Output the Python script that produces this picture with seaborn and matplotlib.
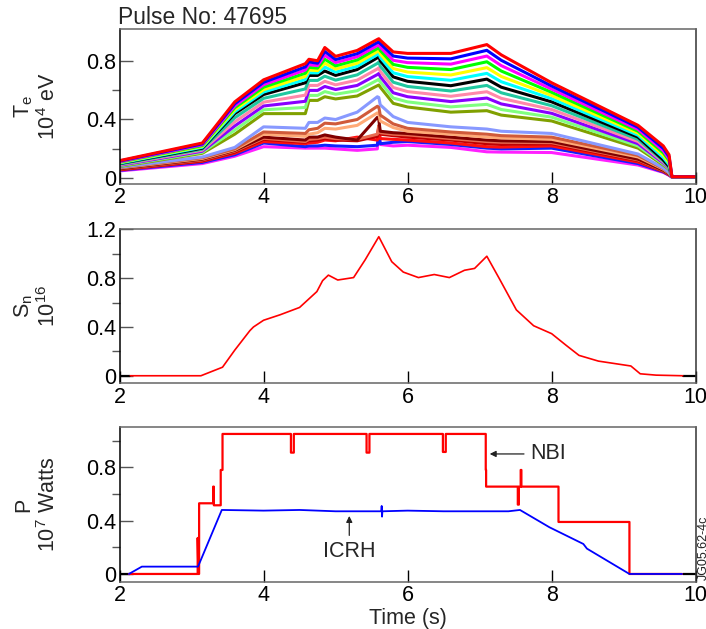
import matplotlib
matplotlib.use('Agg')
import matplotlib.pyplot as plt
import pandas as pd
import seaborn as sns

# --- Te channels (top to bottom), values in 10^4 eV at te_time ---
te_time = [2.0, 3.15, 3.6, 4.0, 4.58, 4.63, 4.75, 4.85, 5.0, 5.3, 5.58, 5.6,
           5.62, 5.8, 6.0, 6.6, 7.1, 7.3, 8.0, 9.2, 9.55, 9.63, 9.67, 10.0]

te_red = [.12, .24, .52, .67, .78, .81, .80, .89, .83, .87, .945, .95, .94, .86, .85, .85, .91, .84, .65, .36, .22, .16, .01, .01]
te_blue = [.117, .234, .507, .653, .758, .792, .783, .863, .808, .848, .924, .93, .917, .832, .818, .813, .871, .803, .628, .347, .204, .147, .01, .01]
te_magenta = [.113, .228, .493, .637, .737, .773, .767, .837, .787, .827, .903, .91, .893, .803, .787, .777, .832, .767, .607, .333, .188, .133, .01, .01]
te_lime = [.11, .222, .48, .62, .715, .755, .75, .81, .765, .805, .883, .89, .87, .775, .755, .74, .793, .73, .585, .32, .173, .12, .01, .01]
te_yellow = [.107, .217, .467, .603, .693, .737, .733, .783, .743, .783, .862, .87, .847, .747, .723, .703, .753, .693, .563, .307, .157, .107, .01, .01]
te_cyan = [.103, .211, .453, .587, .672, .718, .717, .757, .722, .762, .841, .85, .823, .718, .692, .667, .714, .657, .542, .293, .141, .093, .01, .01]
te_black = [.10, .205, .44, .57, .65, .70, .70, .73, .70, .74, .82, .83, .80, .69, .66, .63, .675, .62, .52, .28, .125, .08, .01, .01]
te_teal = [.096, .198, .412, .544, .608, .666, .666, .695, .668, .704, .782, .791, .764, .654, .625, .594, .632, .582, .494, .265, .118, .076, .01, .01]
te_pink = [.092, .191, .384, .518, .566, .632, .632, .66, .636, .668, .744, .752, .728, .618, .59, .558, .589, .544, .468, .25, .111, .072, .01, .01]
te_purple = [.088, .184, .356, .492, .524, .598, .598, .625, .604, .632, .706, .713, .692, .582, .555, .522, .546, .506, .442, .235, .104, .068, .01, .01]
te_lightgreen = [.084, .177, .328, .466, .482, .564, .564, .59, .572, .596, .668, .674, .656, .546, .52, .486, .503, .468, .416, .22, .097, .064, .01, .01]
te_olive = [.08, .17, .30, .44, .44, .53, .53, .555, .54, .56, .63, .635, .62, .51, .485, .45, .46, .43, .39, .205, .09, .06, .01, .01]
te_cornflower = [.075, .145, .21, .35, .34, .38, .38, .41, .40, .45, .555, .55, .50, .42, .38, .35, .335, .32, .305, .165, .07, .04, .01, .01]
te_sienna = [.072, .14, .20, .315, .305, .33, .34, .375, .37, .40, .49, .485, .43, .37, .34, .315, .30, .29, .28, .155, .066, .038, .01, .01]
te_salmon = [.07, .135, .195, .30, .285, .30, .31, .34, .335, .36, .445, .44, .39, .345, .32, .30, .28, .275, .265, .145, .062, .035, .01, .01]
te_maroon = [.065, .13, .19, .28, .26, .28, .28, .295, .28, .26, .415, .40, .32, .31, .305, .28, .26, .255, .25, .13, .055, .03, .01, .01]
te_coral = [.063, .125, .185, .272, .25, .265, .27, .28, .27, .265, .30, .36, .31, .30, .295, .27, .25, .245, .242, .125, .052, .028, .01, .01]
te_darkred = [.06, .12, .178, .265, .245, .255, .26, .27, .26, .255, .285, .35, .30, .29, .28, .26, .235, .23, .235, .12, .05, .026, .01, .01]
te_red2 = [.057, .115, .17, .25, .235, .24, .245, .26, .255, .28, .26, .34, .27, .265, .26, .24, .215, .212, .22, .11, .047, .024, .01, .01]
te_blue2 = [.054, .108, .16, .24, .215, .22, .22, .225, .22, .215, .225, .31, .235, .245, .25, .23, .205, .20, .205, .10, .043, .022, .008, .008]
te_magenta2 = [.05, .10, .15, .215, .205, .205, .205, .205, .20, .19, .20, .34, .23, .22, .225, .21, .18, .178, .175, .09, .04, .02, .006, .006]

# --- Neutron rate, 10^16 ---
sn_time = [2.15, 3.13, 3.43, 3.6, 3.81, 3.86, 4.0, 4.23, 4.5, 4.74, 4.82, 4.9,
           5.03, 5.25, 5.41, 5.6, 5.78, 5.94, 6.15, 6.37, 6.58, 6.79, 6.93, 7.1,
           7.27, 7.51, 7.75, 8.0, 8.2, 8.38, 8.65, 9.1, 9.23, 9.45, 9.82]
sn_value = [0.0, 0.0, 0.07, 0.21, 0.37, 0.40, 0.455, 0.50, 0.56, 0.69, 0.78, 0.825,
            0.785, 0.805, 0.95, 1.14, 0.935, 0.85, 0.805, 0.83, 0.805, 0.865, 0.88, 0.98,
            0.80, 0.54, 0.41, 0.345, 0.25, 0.167, 0.12, 0.08, 0.016, 0.005, 0.0]

# --- Heating power, 10^7 W ---
nbi_time = [2.13, 3.085, 3.085, 3.095, 3.105, 3.105, 3.30, 3.30, 3.31, 3.31, 3.405, 3.405,
            3.43, 3.43, 4.38, 4.38, 4.42, 4.42, 5.43, 5.43, 5.47, 5.47, 6.49, 6.49,
            6.53, 6.53, 7.085, 7.085, 7.09, 7.09, 7.53, 7.53, 7.545, 7.545, 7.57, 7.57,
            7.58, 7.58, 8.095, 8.095, 9.08, 9.08, 9.81]
nbi_power = [0.0, 0.0, 0.27, 0.0, 0.0, 0.53, 0.53, 0.655, 0.655, 0.515, 0.515, 0.78,
             0.78, 1.05, 1.05, 0.91, 0.91, 1.05, 1.05, 0.91, 0.91, 1.05, 1.05, 0.915,
             0.915, 1.05, 1.05, 0.78, 0.78, 0.655, 0.655, 0.52, 0.52, 0.655, 0.655, 0.78,
             0.78, 0.655, 0.655, 0.39, 0.39, 0.0, 0.0]
icrh_time = [2.13, 2.31, 3.09, 3.42, 4.0, 4.5, 5.0, 5.635, 5.64, 5.645, 5.65, 6.0,
             6.5, 7.0, 7.4, 7.56, 7.97, 8.44, 8.49, 9.08, 9.81]
icrh_power = [0.0, 0.055, 0.055, 0.48, 0.475, 0.48, 0.47, 0.47, 0.51, 0.43, 0.47, 0.475,
              0.47, 0.47, 0.47, 0.48, 0.35, 0.225, 0.19, 0.0, 0.0]

# short zero-level stubs at both ends of the time window
stub_left = [2.0, 2.15]
stub_right = [9.82, 10.0]
stub_zero = [0.0, 0.0]

x_ticks = [2, 4, 6, 8, 10]

te_channels = [te_red, te_blue, te_magenta, te_lime, te_yellow, te_cyan, te_black,
               te_teal, te_pink, te_purple, te_lightgreen, te_olive, te_cornflower,
               te_sienna, te_salmon, te_maroon, te_coral, te_darkred, te_red2,
               te_blue2, te_magenta2]
te_colors = ['#ff0000', '#0000ff', '#ff00ff', '#00ff00', '#ffff00', '#00ffff', '#000000',
             '#20c8a0', '#ff88aa', '#8800ff', '#80ff80', '#80a000', '#8899ff',
             '#d05a3a', '#ffaa77', '#800000', '#e86a50', '#c00000', '#ff1010',
             '#1020ff', '#ff20ff']

sns.set_style('ticks')
plt.rcParams['font.family'] = ['Liberation Sans', 'DejaVu Sans']
plt.rcParams['mathtext.fontset'] = 'custom'
plt.rcParams['mathtext.rm'] = 'Liberation Sans'
plt.rcParams['mathtext.it'] = 'Liberation Sans:italic'
plt.rcParams['mathtext.default'] = 'regular'

FS = 15.5

fig = plt.figure(figsize=(7.06, 6.29), dpi=100)
ax_te = fig.add_axes([0.1693, 0.7075, 0.8161, 0.2459])
ax_sn = fig.add_axes([0.1693, 0.3906, 0.8161, 0.2448])
ax_p = fig.add_axes([0.1693, 0.0752, 0.8161, 0.2455])

# top: Te
rows = []
for k, vals in enumerate(te_channels):
    for t, v in zip(te_time, vals):
        rows.append((k, t, v))
te_df = pd.DataFrame(rows, columns=['channel', 'time', 'te'])
n_ch = len(te_channels)
sns.lineplot(data=te_df, x='time', y='te', hue='channel',
             hue_order=list(reversed(range(n_ch))),
             palette=dict(enumerate(te_colors)), estimator=None, sort=False,
             legend=False, linewidth=2.2, ax=ax_te)

# middle: Sn
for stub in (stub_left, stub_right):
    sns.lineplot(x=stub, y=stub_zero, color='black', linewidth=1.6, estimator=None,
                 sort=False, ax=ax_sn)
sns.lineplot(x=sn_time, y=sn_value, color='#ff0000', linewidth=1.2, estimator=None,
             sort=False, ax=ax_sn)

# bottom: power
for stub in (stub_left, stub_right):
    sns.lineplot(x=stub, y=stub_zero, color='black', linewidth=1.6, estimator=None,
                 sort=False, ax=ax_p)
sns.lineplot(x=nbi_time, y=nbi_power, color='#ff0000', linewidth=1.6, estimator=None,
             sort=False, ax=ax_p)
sns.lineplot(x=icrh_time, y=icrh_power, color='#0000ff', linewidth=1.3, estimator=None,
             sort=False, ax=ax_p)

arrow = dict(arrowstyle='-|>', color='#222222', lw=0.9, mutation_scale=9,
             shrinkA=2, shrinkB=0)
ax_p.annotate('NBI', xy=(7.14, 0.90), xytext=(7.70, 0.90), ha='left', va='center',
              fontsize=FS, arrowprops=arrow)
ax_p.annotate('ICRH', xy=(5.19, 0.435), xytext=(5.19, 0.165), ha='center',
              va='center', fontsize=FS, arrowprops=arrow)


def style(ax, ylim, major, labels, minor, ylabel):
    ax.set_xlim(2, 10)
    ax.set_ylim(*ylim)
    ax.set_xticks(x_ticks)
    ax.set_xticklabels([str(v) for v in x_ticks])
    ax.set_yticks(major)
    ax.set_yticklabels(labels)
    ax.set_yticks(minor, minor=True)
    ax.tick_params(direction='in', labelsize=FS, pad=2.5, colors='black')
    ax.tick_params(axis='x', which='major', length=8.5, width=1.0, color='black')
    ax.tick_params(axis='y', which='major', length=9.5, width=1.0, color='#555555')
    ax.tick_params(axis='y', which='minor', length=5.5, width=1.0, color='#555555')
    ax.set_xlabel('')
    ax.set_ylabel(ylabel, fontsize=FS, linespacing=1.15)
    ax.yaxis.set_label_coords(-0.103, 0.5)
    for side in ['top', 'right', 'bottom', 'left']:
        ax.spines[side].set_visible(True)
        ax.spines[side].set_linewidth(1.1)
    ax.spines['left'].set_color('black')
    ax.spines['right'].set_color('#333333')
    ax.spines['top'].set_color('#666666')
    ax.spines['bottom'].set_color('#666666')


style(ax_te, (-0.039, 1.014), [0, 0.4, 0.8], ['0', '0.4', '0.8'], [0.2, 0.6],
      '$T_e$\n$10^4$ eV')
style(ax_sn, (-0.062, 1.2005), [0, 0.4, 0.8, 1.2], ['0', '0.4', '0.8', '1.2'],
      [0.2, 0.6, 1.0], '$S_n$\n$10^{16}$')
style(ax_p, (-0.058, 1.10), [0, 0.4, 0.8], ['0', '0.4', '0.8'], [0.2, 0.6, 1.0],
      'P\n$10^7$ Watts')
ax_p.set_xlabel('Time (s)', fontsize=FS, labelpad=1)

fig.text(118 / 706, 1 - 24 / 629, 'Pulse No: 47695', ha='left', va='baseline',
         fontsize=16.5)
fig.text(698 / 706, (629 - 516) / 629, 'JG05.62-4c', rotation=90, ha='left',
         va='top', fontsize=9, color='#222222')

fig.savefig('out.png', dpi=100)
